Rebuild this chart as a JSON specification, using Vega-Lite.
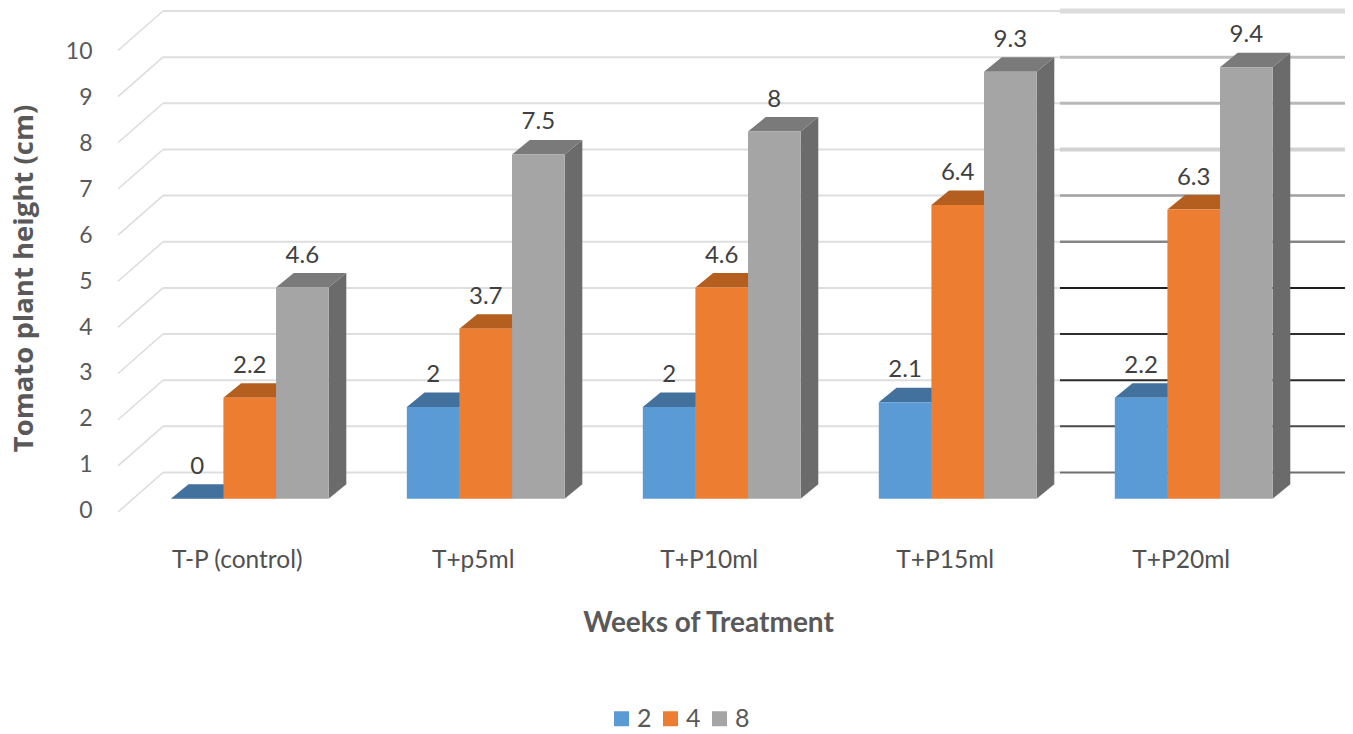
{
  "$schema": "https://vega.github.io/schema/vega-lite/v6.json",
  "width": 1232,
  "height": 530,
  "autosize": {"type": "none"},
  "padding": {"left": 118, "top": 0, "right": 3, "bottom": 204},
  "background": "white",
  "config": {"view": {"stroke": null}, "font": "Lato"},
  "datasets": {
    "levels": [
      {"level": 0}, {"level": 1}, {"level": 2}, {"level": 3}, {"level": 4}, {"level": 5},
      {"level": 6}, {"level": 7}, {"level": 8}, {"level": 9}, {"level": 10}
    ],
    "heights": [
      {"treatment": "T-P (control)", "week": 2, "value": 0},
      {"treatment": "T-P (control)", "week": 4, "value": 2.2},
      {"treatment": "T-P (control)", "week": 8, "value": 4.6},
      {"treatment": "T+p5ml", "week": 2, "value": 2},
      {"treatment": "T+p5ml", "week": 4, "value": 3.7},
      {"treatment": "T+p5ml", "week": 8, "value": 7.5},
      {"treatment": "T+P10ml", "week": 2, "value": 2},
      {"treatment": "T+P10ml", "week": 4, "value": 4.6},
      {"treatment": "T+P10ml", "week": 8, "value": 8},
      {"treatment": "T+P15ml", "week": 2, "value": 2.1},
      {"treatment": "T+P15ml", "week": 4, "value": 6.4},
      {"treatment": "T+P15ml", "week": 8, "value": 9.3},
      {"treatment": "T+P20ml", "week": 2, "value": 2.2},
      {"treatment": "T+P20ml", "week": 4, "value": 6.3},
      {"treatment": "T+P20ml", "week": 8, "value": 9.4}
    ]
  },
  "encoding": {
    "x": {
      "field": "x",
      "type": "quantitative",
      "scale": {"domain": [-0.5581, 4.6623], "nice": false, "zero": false},
      "axis": {
        "values": [0, 1, 2, 3, 4],
        "labelExpr": "['T-P (control)', 'T+p5ml', 'T+P10ml', 'T+P15ml', 'T+P20ml'][datum.value]",
        "grid": false, "domain": false, "ticks": false,
        "labelFont": "Lato", "labelFontSize": 24.5, "labelColor": "#505050", "labelPadding": 18,
        "labelOffset": -13, "labelFlush": false, "labelOverlap": false,
        "title": "Weeks of Treatment",
        "titleFont": "Lato", "titleFontSize": 28, "titleFontWeight": "bold", "titleColor": "#595959",
        "titleX": 590, "titleY": 79, "titleAnchor": "middle"
      }
    },
    "y": {
      "field": "y",
      "type": "quantitative",
      "scale": {"domain": [-0.682, 10.865], "nice": false, "zero": false},
      "axis": {
        "values": [0, 1, 2, 3, 4, 5, 6, 7, 8, 9, 10],
        "grid": false, "domain": false, "ticks": false,
        "labelFont": "Lato", "labelFontSize": 23, "labelColor": "#595959", "labelPadding": 26,
        "labelOffset": 12, "labelOverlap": false, "labelFlush": false,
        "title": "Tomato plant height (cm)",
        "titleFont": "Open Sans", "titleFontSize": 27.5, "titleFontWeight": "bold", "titleColor": "#595959",
        "titleX": -80, "titleY": 278, "titleAnchor": "middle"
      }
    }
  },
  "layer": [
    {
      "description": "Wall gridlines across the back of the chart",
      "data": {"name": "levels"},
      "transform": [
        {"calculate": "-0.3674", "as": "x"},
        {"calculate": "3.4335", "as": "x2"},
        {"calculate": "datum.level * 1.00545 + 0.571", "as": "y"},
        {"calculate": "datum.y", "as": "y2"}
      ],
      "mark": {"type": "rule", "color": "#dedede", "strokeWidth": 2},
      "encoding": {
        "x2": {"field": "x2"},
        "y2": {"field": "y2"}
      }
    },
    {
      "description": "Side-wall gridlines running from the axis to the back wall",
      "data": {"name": "levels"},
      "transform": [
        {"calculate": "-0.5581", "as": "x"},
        {"calculate": "-0.3674", "as": "x2"},
        {"calculate": "datum.level * 1.00545 - 0.29", "as": "y"},
        {"calculate": "datum.level * 1.00545 + 0.571", "as": "y2"}
      ],
      "mark": {"type": "rule", "color": "#dcdcdc", "strokeWidth": 1.5},
      "encoding": {
        "x2": {"field": "x2"},
        "y2": {"field": "y2"}
      }
    },
    {
      "description": "Heavier gridlines behind the last treatment group",
      "data": {"name": "levels"},
      "transform": [
        {"calculate": "3.4335", "as": "x"},
        {"calculate": "4.641", "as": "x2"},
        {"calculate": "datum.level * 1.00545 + 0.571", "as": "y"},
        {"calculate": "datum.y", "as": "y2"}
      ],
      "mark": {"type": "rule"},
      "encoding": {
        "x2": {"field": "x2"},
        "y2": {"field": "y2"},
        "color": {
          "field": "level", "type": "ordinal", "legend": null,
          "scale": {"domain": [0, 1, 2, 3, 4, 5, 6, 7, 8, 9, 10],
            "range": ["#6e6e6e", "#4a4a4a", "#2a2a2a", "#2e2e2e", "#1e1e1e", "#858585", "#a0a0a0", "#d2d2d2", "#b8b8b8", "#bebebe", "#dcdcdc"]}
        },
        "size": {
          "field": "level", "type": "ordinal", "legend": null,
          "scale": {"type": "ordinal", "domain": [0, 1, 2, 3, 4, 5, 6, 7, 8, 9, 10],
            "range": [2, 2, 2, 2, 2, 2.5, 2.5, 4, 3, 3, 5]}
        }
      }
    },
    {
      "description": "Right-hand faces of the columns",
      "data": {"name": "heights"},
      "transform": [
        {"calculate": "[0, 1]", "as": "v"},
        {"flatten": ["v"]},
        {"calculate": "indexof(['T-P (control)', 'T+p5ml', 'T+P10ml', 'T+P15ml', 'T+P20ml'], datum.treatment) + (indexof([2, 4, 8], datum.week) - 1) * 0.2229", "as": "centre"},
        {"calculate": "datum.centre + 0.1114 + datum.v * 0.075", "as": "x"},
        {"calculate": "datum.v * 0.316", "as": "y"},
        {"calculate": "datum.value + datum.v * 0.316", "as": "y2"}
      ],
      "mark": {"type": "area", "orient": "vertical"},
      "encoding": {
        "y2": {"field": "y2"},
        "detail": {"field": "treatment"},
        "color": {
          "field": "week", "type": "nominal", "legend": null,
          "scale": {"domain": [2, 4, 8], "range": ["#3a6b96", "#a85a20", "#6b6b6b"]}
        }
      }
    },
    {
      "description": "Top faces of the columns",
      "data": {"name": "heights"},
      "transform": [
        {"calculate": "[0, 1, 2, 3]", "as": "v"},
        {"flatten": ["v"]},
        {"calculate": "indexof(['T-P (control)', 'T+p5ml', 'T+P10ml', 'T+P15ml', 'T+P20ml'], datum.treatment) + (indexof([2, 4, 8], datum.week) - 1) * 0.2229", "as": "centre"},
        {"calculate": "datum.centre + [-0.1114, -0.0364, 0.1114, 0.1864][datum.v]", "as": "x"},
        {"calculate": "datum.value + (datum.v == 3 ? 0.316 : 0)", "as": "y"},
        {"calculate": "datum.value + (datum.v == 0 ? 0 : 0.316)", "as": "y2"}
      ],
      "mark": {"type": "area", "orient": "vertical"},
      "encoding": {
        "y2": {"field": "y2"},
        "detail": {"field": "treatment"},
        "color": {
          "field": "week", "type": "nominal", "legend": null,
          "scale": {"domain": [2, 4, 8], "range": ["#41719c", "#b45f20", "#7a7a7a"]}
        }
      }
    },
    {
      "description": "Front faces of the columns, with the week legend",
      "data": {"name": "heights"},
      "transform": [
        {"calculate": "indexof(['T-P (control)', 'T+p5ml', 'T+P10ml', 'T+P15ml', 'T+P20ml'], datum.treatment) + (indexof([2, 4, 8], datum.week) - 1) * 0.2229", "as": "centre"},
        {"calculate": "datum.centre - 0.1114", "as": "x"},
        {"calculate": "datum.centre + 0.1114", "as": "x2"},
        {"calculate": "datum.value", "as": "y"},
        {"calculate": "0", "as": "y2"}
      ],
      "mark": {"type": "rect"},
      "encoding": {
        "x2": {"field": "x2"},
        "y2": {"field": "y2"},
        "color": {
          "field": "week", "type": "nominal",
          "scale": {"domain": [2, 4, 8], "range": ["#5b9bd5", "#ed7d31", "#a5a5a5"]},
          "legend": {
            "title": null, "orient": "none", "direction": "horizontal", "columns": 3,
            "legendX": 491, "legendY": 706,
            "symbolType": "square", "symbolSize": 225, "symbolStrokeWidth": 0,
            "labelFont": "Lato", "labelFontSize": 25, "labelColor": "#595959",
            "labelOffset": 3, "columnPadding": 6
          }
        }
      }
    },
    {
      "description": "Value labels above each column",
      "data": {"name": "heights"},
      "transform": [
        {"calculate": "indexof(['T-P (control)', 'T+p5ml', 'T+P10ml', 'T+P15ml', 'T+P20ml'], datum.treatment) + (indexof([2, 4, 8], datum.week) - 1) * 0.2229", "as": "x"},
        {"calculate": "datum.value", "as": "y"}
      ],
      "mark": {"type": "text", "dy": -32, "font": "Lato", "fontSize": 24, "color": "#404040", "baseline": "middle", "align": "center"},
      "encoding": {
        "text": {"field": "value", "type": "quantitative"}
      }
    }
  ],
  "resolve": {"scale": {"color": "independent"}}
}
